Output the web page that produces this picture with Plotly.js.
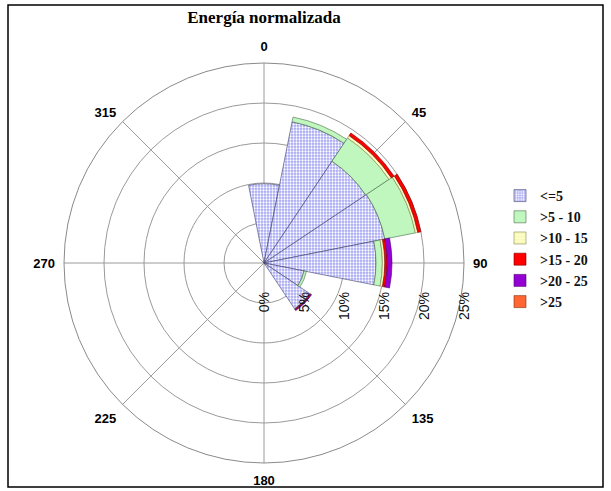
<!DOCTYPE html>
<html>
<head>
<meta charset="utf-8">
<script src="https://cdn.plot.ly/plotly-3.0.1.min.js"></script>
<style>
html,body{margin:0;padding:0;background:#fff;}
#chart{width:611px;height:491px;}
</style>
</head>
<body>
<div id="chart"></div>
<script>
// Directions (degrees, compass) and energy share (%) per speed class
const directions = [0, 22.5, 45, 67.5, 90, 112.5, 135];
const classNames = ["<=5", ">5 - 10", ">10 - 15", ">15 - 20", ">20 - 25", ">25"];
const s_le5    = [9.9, 18.0, 15.3, 15.4, 14.0, 5.1, 6.9];
const s_5_10   = [0.0, 0.6, 3.5, 3.9, 0.8, 0.3, 0.05];
const s_10_15  = [0.0, 0.0, 0.35, 0.3, 0.3, 0.0, 0.0];
const s_15_20  = [0.0, 0.0, 0.4, 0.4, 0.3, 0.0, 0.1];
const s_20_25  = [0.0, 0.0, 0.0, 0.0, 0.6, 0.0, 0.1];
const s_gt25   = [0.0, 0.0, 0.0, 0.0, 0.0, 0.0, 0.0];
const radialTicks = [0, 5, 10, 15, 20, 25];
const angularTicks = [0, 45, 90, 135, 180, 225, 270, 315];

const series = [s_le5, s_5_10, s_10_15, s_15_20, s_20_25, s_gt25];
const colors = ["#a4a4f4", "#bff7bf", "#ffffc4", "#ff0000", "#9400d3", "#ff6633"];
const lineColors = ["#3a3a6a", "#4a6a4a", "#8a8a50", "#800000", "#500070", "#803010"];
const patterns = [
  {shape: ".", fgcolor: "#ffffff", bgcolor: "#a4a4f4", size: 3, solidity: 0.45},
  null,
  {shape: "+", fgcolor: "#e6e6a0", bgcolor: "#ffffc8", size: 4, solidity: 0.2},
  null, null, null
];

const traces = series.map((vals, i) => {
  const m = {color: colors[i], line: {color: lineColors[i], width: 0.6}};
  if (patterns[i]) m.pattern = patterns[i];
  return {
    type: "barpolar",
    r: vals,
    theta: directions,
    width: directions.map(() => 22.5),
    name: classNames[i],
    legendgroup: "g" + i,
    marker: m,
    hoverinfo: "skip"
  };
});

const W = 611, H = 491;
const cx = 264, cy = 263, R = 200;

const layout = {
  width: W, height: H,
  margin: {l: 0, r: 0, t: 0, b: 0},
  paper_bgcolor: "#ffffff",
  plot_bgcolor: "#ffffff",
  title: {
    text: "Energía normalizada",
    x: cx / W, xanchor: "center",
    y: 1 - 17 / H, yanchor: "middle",
    font: {family: "Liberation Serif", size: 17, color: "#000", weight: "bold"}
  },
  polar: {
    domain: {x: [(cx - R) / W, (cx + R) / W], y: [1 - (cy + R) / H, 1 - (cy - R) / H]},
    bgcolor: "rgba(0,0,0,0)",
    barmode: "stack",
    bargap: 0,
    radialaxis: {
      range: [0, 25],
      tickvals: radialTicks,
      ticktext: radialTicks.map(v => v + "%"),
      angle: 0,
      side: "clockwise",
      tickangle: -90,
      ticks: "outside",
      ticklen: 23,
      tickcolor: "rgba(0,0,0,0)",
      showline: false,
      gridcolor: "#9a9a9a",
      gridwidth: 1,
      tickfont: {family: "Liberation Sans", size: 14, color: "#111"},
      layer: "above traces"
    },
    angularaxis: {
      rotation: 90,
      direction: "clockwise",
      tickvals: angularTicks,
      ticktext: angularTicks.map(String),
      ticks: "outside",
      ticklen: 6,
      tickcolor: "rgba(0,0,0,0)",
      showline: true,
      linecolor: "#8a8a8a",
      linewidth: 1,
      gridcolor: "#9a9a9a",
      gridwidth: 1,
      tickfont: {family: "Liberation Sans", size: 13, color: "#000", weight: "bold"},
      layer: "below traces"
    }
  },
  showlegend: true,
  legend: {
    x: 500 / W, xanchor: "left",
    y: 1 - 180 / H, yanchor: "top",
    bgcolor: "rgba(255,255,255,0)",
    font: {family: "Liberation Serif", size: 14, color: "#111", weight: "bold"},
    tracegroupgap: 7,
    traceorder: "normal",
    itemwidth: 30
  },
  shapes: [
    {type: "rect", xref: "paper", yref: "paper",
     x0: 8 / W, x1: 603 / W, y0: 1 - 487 / H, y1: 1 - 5 / H,
     line: {color: "#000", width: 1.5}, fillcolor: "rgba(0,0,0,0)"}
  ]
};

Plotly.newPlot("chart", traces, layout, {displayModeBar: false, staticPlot: true});
</script>
</body>
</html>
